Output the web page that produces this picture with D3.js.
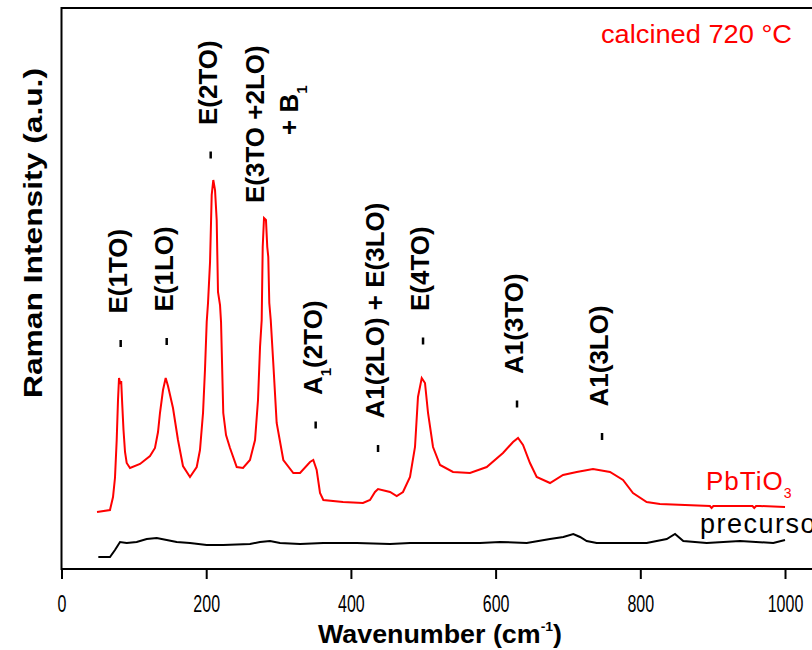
<!DOCTYPE html>
<html><head><meta charset="utf-8">
<script src="https://cdn.jsdelivr.net/npm/d3@7"></script>
<style>body{margin:0;background:#fff} svg{display:block;background:#fff}</style>
</head><body>
<svg id="c" width="812" height="650"></svg>
<script>
// ---- data ----
const xTicks = [0, 200, 400, 600, 800, 1000];

const pbtioWn = [49.1,67.0,71.2,73.9,76.3,78.1,79.5,81.3,82.5,84.0,85.7,87.8,90.1,94.7,108.5,122.3,129.2,133.4,136.1,140.3,144.0,147.2,154.1,161.0,167.9,177.6,186.9,191.4,195.6,198.3,200.7,202.5,205.3,207.6,209.8,212.2,214.5,216.3,219.1,220.5,223.6,227.4,232.9,242.2,250.9,260.5,267.5,271.6,274.4,276.7,278.1,279.9,282.6,284.4,285.8,287.2,289.2,292.7,297.4,306.6,320.4,329.7,343.5,348.0,352.7,357.3,361.9,389.1,416.7,426.4,433.3,437.5,454.1,463.3,472.0,481.7,488.6,492.7,497.9,502.4,506.6,513.5,523.2,541.1,564.6,587.7,610.2,624.1,631.0,637.9,647.5,656.8,675.2,693.2,712.1,734.6,758.1,776.1,789.9,808.8,827.1,896.2,898.5,901,955,957.5,960,965.4,1000];
const pbtioI  = [58,60,73,92,130,170,192,186,189,165,140,118,107,102,106,114,122,138,157,180,192,184,162,130,104,93,103,120,157,200,248,267,308,375,390,380,350,278,265,248,157,135,122,103,102,110,130,170,223,250,323,352,350,323,313,267,250,207,147,110,97,97,108,110,100,77,70,68,67,70,78,81,78,74,78,93,123,173,192,187,157,123,105,98,97,103,117,128,132,125,107,93,87,95,98,101,98,90,77,68,66,64,62,64,64,62,64,64,63];

const precWn = [50.9,67.0,73.9,80.9,90.1,103.9,117.8,131.6,145.4,159.2,177.6,200.7,223.6,260.5,274.4,288.2,302.0,329.7,361.9,408.0,454.0,481.7,578.4,606.1,643.0,675.2,693.6,707.4,716.7,725.9,739.7,808.8,836.5,848.0,859.4,891.8,937.8,983.8,1000];
const precI  = [13,13,20,28,27,28,31,32,30,28,27,25,25,26,28,29,27,26,27,27,26,27,27,28,27,31,33,36,33,29,27,27,31,36,29,27,29,27,30];

// peak assignments: label, mode wavenumber, intensity level of the marker
const modeLabels = ["E(1TO)", "E(1LO)", "E(2TO)", "A_1(2TO)", "A1(2LO) + E(3LO)", "E(4TO)", "A1(3TO)", "A1(3LO)"];
const modeWn     = [81.8, 145.4, 206.2, 351.3, 437.5, 499.7, 629.6, 747.1];
const modeLevel  = [226.5, 228.5, 415, 145, 121.5, 229, 166, 133.5];
// two-line label without marker
const comboLines = ["E(3TO +2LO)", "+ B_1"];
const comboWn    = 271.6;
const comboLevel = [367, 435];

const seriesNames = ["PbTiO_3", "precursor"];
const titleText = "calcined 720 °C";
const xTitle = "Wavenumber (cm";
const yTitle = "Raman Intensity (a.u.)";

// ---- chart ----
const svg = d3.select("#c");
const L = 61.5, T = 8, R = 812, B = 569;
const x = d3.scaleLinear().domain([0, 1037.3]).range([L, R]);
const y = d3.scaleLinear().domain([0, 563]).range([570, 7]);

const FONT = "'Liberation Sans', Arial, sans-serif";
const NARROW = "'Liberation Sans Narrow', 'Liberation Sans', Arial, sans-serif";

// frame
svg.append("rect").attr("x", L).attr("y", T).attr("width", 820 - L).attr("height", B - T)
  .attr("fill", "none").attr("stroke", "#000").attr("stroke-width", 2);

// x axis
const ax = svg.append("g").attr("transform", `translate(0,${B})`)
  .call(d3.axisBottom(x).tickValues(xTicks).tickSize(10).tickSizeOuter(0).tickFormat(d3.format("d")));
ax.select(".domain").remove();
ax.selectAll(".tick line").attr("stroke", "#000").attr("stroke-width", 2);
ax.selectAll(".tick text").attr("y", 43).attr("dy", 0)
  .attr("font-family", NARROW).attr("font-size", 23).attr("fill", "#000")
  .attr("textLength", d => String(d).length * 8.9).attr("lengthAdjust", "spacingAndGlyphs");

// axis titles
const xt = svg.append("text").attr("x", 318).attr("y", 643)
  .attr("font-family", NARROW).attr("font-weight", "bold").attr("font-size", 25)
  .attr("textLength", 244).attr("lengthAdjust", "spacingAndGlyphs");
xt.append("tspan").text(xTitle);
xt.append("tspan").attr("font-size", 13).attr("dy", -12).text("-1");
xt.append("tspan").attr("dy", 12).text(")");

svg.append("text").attr("transform", "translate(42,398) rotate(-90)")
  .attr("font-family", FONT).attr("font-weight", "bold").attr("font-size", 26)
  .attr("textLength", 330).attr("lengthAdjust", "spacingAndGlyphs").text(yTitle);

// curves
const line = d3.line().x(d => x(d[0])).y(d => y(d[1]));
svg.append("path").datum(d3.zip(precWn, precI)).attr("d", line)
  .attr("fill", "none").attr("stroke", "#000").attr("stroke-width", 2);
svg.append("path").datum(d3.zip(pbtioWn, pbtioI)).attr("d", line)
  .attr("fill", "none").attr("stroke", "#ff0000").attr("stroke-width", 2);

// helper: text with "_x" subscripts
function addRich(sel, str, subSize) {
  const parts = str.split(/(_.)/);
  parts.forEach(p => {
    if (!p) return;
    if (p[0] === "_") sel.append("tspan").attr("font-size", subSize).attr("baseline-shift", "sub").text(p[1]);
    else sel.append("tspan").text(p);
  });
}

// mode labels
modeLabels.forEach((lab, i) => {
  const px = x(modeWn[i]), py = y(modeLevel[i]);
  svg.append("line").attr("x1", px).attr("x2", px).attr("y1", py - 3.5).attr("y2", py + 3.5)
    .attr("stroke", "#000").attr("stroke-width", 2.5);
  const t = svg.append("text").attr("transform", `translate(${px + 6},${py - 30}) rotate(-90)`)
    .attr("font-family", FONT).attr("font-weight", "bold").attr("font-size", 26).attr("fill", "#000");
  addRich(t, lab, 15);
});
comboLines.forEach((lab, i) => {
  const t = svg.append("text").attr("transform", `translate(${x(comboWn) + 6 + i * 34},${y(comboLevel[i])}) rotate(-90)`)
    .attr("font-family", FONT).attr("font-weight", "bold").attr("font-size", 26).attr("fill", "#000");
  addRich(t, lab, 15);
});

// annotations
svg.append("text").attr("x", 601).attr("y", 43).attr("font-family", FONT).attr("font-size", 25)
  .attr("fill", "#ff0000").attr("textLength", 191).attr("lengthAdjust", "spacingAndGlyphs").text(titleText);

const s1 = svg.append("text").attr("x", 706).attr("y", 490).attr("font-family", FONT).attr("font-size", 26)
  .attr("fill", "#ff0000").attr("letter-spacing", 1);
addRich(s1, seriesNames[0], 14);

svg.append("text").attr("x", 700).attr("y", 533).attr("font-family", FONT).attr("font-size", 27)
  .attr("fill", "#000").attr("letter-spacing", 1.5).text(seriesNames[1]);
</script>
</body></html>
